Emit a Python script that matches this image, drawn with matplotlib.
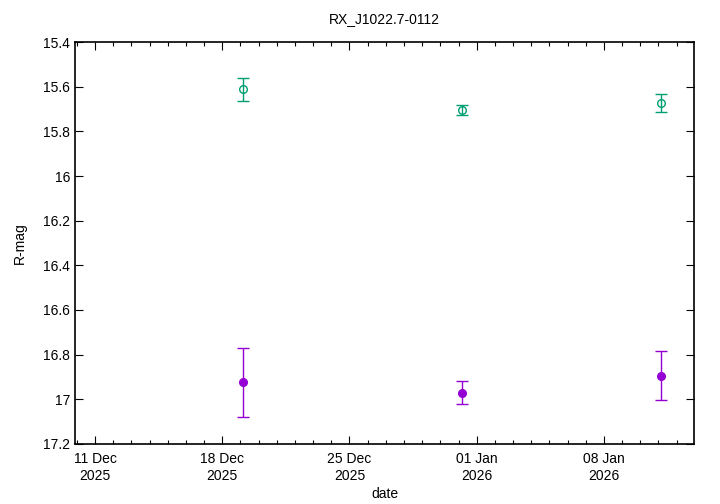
import numpy as np
import pandas as pd
import matplotlib
matplotlib.use("Agg")
import matplotlib.pyplot as plt
import matplotlib.dates as mdates
from matplotlib.ticker import FixedLocator

plt.rcParams["font.family"] = ["Liberation Sans", "DejaVu Sans"]
plt.rcParams["font.size"] = 10

# observations (date, magnitude, error)
dates = pd.to_datetime(["2025-12-19 04:00", "2025-12-31 04:00", "2026-01-11 04:00"])
mag_open = [15.612, 15.705, 15.673]
err_open = [0.052, 0.024, 0.041]
mag_fill = [16.924, 16.970, 16.895]
err_fill = [0.153, 0.053, 0.110]
tick_dates = pd.to_datetime(["2025-12-11", "2025-12-18", "2025-12-25", "2026-01-01", "2026-01-08"])

fig = plt.figure(figsize=(7.2, 5.04), dpi=100)
ax = fig.add_axes([75/720, 1-444/504, (694-75)/720, (444-42)/504])

ax.errorbar(dates, mag_open, yerr=err_open, fmt="o", mfc="none", mec="#009e73",
            ecolor="#009e73", ms=5.5, mew=1, elinewidth=1, capsize=4, capthick=1)
ax.errorbar(dates, mag_fill, yerr=err_fill, fmt="o", color="#9400d3",
            ecolor="#9400d3", ms=5.5, elinewidth=1, capsize=4, capthick=1)

ax.set_ylim(17.2, 15.4)
ax.set_yticks(np.arange(15.4, 17.21, 0.2))
ax.set_yticklabels(["15.4", "15.6", "15.8", "16", "16.2", "16.4", "16.6", "16.8", "17", "17.2"])
ax.set_xlim(pd.Timestamp("2025-12-09 21:30"), pd.Timestamp("2026-01-12 23:00"))
ax.xaxis.set_major_locator(FixedLocator(mdates.date2num(tick_dates)))
ax.xaxis.set_major_formatter(mdates.DateFormatter("%d %b\n%Y"))
ax.xaxis.set_minor_locator(mdates.DayLocator())

ax.tick_params(which="both", direction="in", top=True, right=True)
ax.tick_params(which="major", length=6, width=0.8)
ax.tick_params(which="minor", length=3, width=0.8)
ax.tick_params(axis="x", pad=6)
for lab in ax.get_xticklabels():
    lab.set_horizontalalignment("center")
for s in ax.spines.values():
    s.set_linewidth(1.2)

ax.set_title("RX_J1022.7-0112", fontsize=10, pad=14)
ax.set_xlabel("date", labelpad=3)
ax.set_ylabel("R-mag", labelpad=12)

fig.savefig("out.png", dpi=100)
